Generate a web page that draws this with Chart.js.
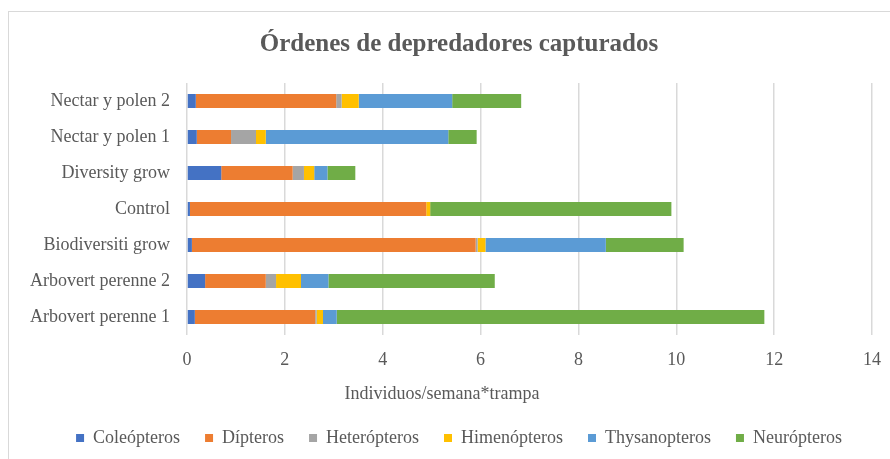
<!DOCTYPE html>
<html lang="es">
<head>
    <meta charset="UTF-8">
    <title>Órdenes de depredadores capturados</title>
    <script src="https://cdn.jsdelivr.net/npm/chart.js"></script>
    <style>
        html, body { margin: 0; padding: 0; background: #fff; overflow: hidden; }
        #frame {
            position: absolute; left: 8px; top: 11px;
            width: 900px; height: 460px;
            border-left: 1.5px solid #d9d9d9; border-top: 1.5px solid #d9d9d9;
        }
        #frame canvas { position: absolute; left: 0; top: 0; }
    </style>
</head>
<body>
    <div id="frame"><canvas id="predChart" width="900" height="460"></canvas></div>
    <script>
        // categorias de arriba hacia abajo
        const categories = ['Nectar y polen 2', 'Nectar y polen 1', 'Diversity grow', 'Control',
            'Biodiversiti grow', 'Arbovert perenne 2', 'Arbovert perenne 1'];

        const coleopteros   = [0.18, 0.20, 0.70, 0.06, 0.10, 0.37, 0.16];
        const dipteros      = [2.87, 0.70, 1.46, 4.83, 5.80, 1.24, 2.46];
        const heteropteros  = [0.11, 0.51, 0.23, 0.00, 0.04, 0.21, 0.03];
        const himenopteros  = [0.35, 0.20, 0.21, 0.08, 0.16, 0.51, 0.13];
        const thysanopteros = [1.91, 3.73, 0.27, 0.00, 2.46, 0.56, 0.28];
        const neuropteros   = [1.41, 0.58, 0.57, 4.93, 1.59, 3.40, 8.74];

        const xTicks = [0, 2, 4, 6, 8, 10, 12, 14];

        const FONT = '"Liberation Serif", "Times New Roman", serif';
        const GREY = '#595959';

        function ds(label, data, color) {
            return { label: label, data: data, backgroundColor: color, borderWidth: 0,
                barPercentage: 0.39, categoryPercentage: 1 };
        }

        // titulo del eje x (en Excel no esta centrado en el area de trazado)
        const axisTitle = {
            id: 'axisTitle',
            afterDraw(chart) {
                const c = chart.ctx;
                c.save();
                c.font = '18px ' + FONT;
                c.fillStyle = GREY;
                c.textAlign = 'center';
                c.textBaseline = 'middle';
                c.fillText('Individuos/semana*trampa', 433, 382);
                c.restore();
            }
        };

        var ctx = document.getElementById('predChart').getContext('2d');
        var chart = new Chart(ctx, {
            type: 'bar',
            data: {
                labels: categories,
                datasets: [
                    ds('Coleópteros', coleopteros, '#4472C4'),
                    ds('Dípteros', dipteros, '#ED7D31'),
                    ds('Heterópteros', heteropteros, '#A5A5A5'),
                    ds('Himenópteros', himenopteros, '#FFC000'),
                    ds('Thysanopteros', thysanopteros, '#5B9BD5'),
                    ds('Neurópteros', neuropteros, '#70AD47')
                ]
            },
            plugins: [axisTitle],
            options: {
                indexAxis: 'y',
                responsive: false,
                animation: false,
                layout: { padding: { top: 0, right: 0, bottom: 15, left: 0 } },
                plugins: {
                    title: {
                        display: true,
                        text: 'Órdenes de depredadores capturados',
                        color: GREY,
                        font: { family: FONT, size: 25, weight: 'bold' },
                        padding: { top: 18, bottom: 23 }
                    },
                    legend: {
                        position: 'bottom',
                        labels: {
                            color: GREY,
                            font: { family: FONT, size: 18 },
                            boxWidth: 8, boxHeight: 8,
                            padding: 25
                        }
                    },
                    tooltip: { enabled: false }
                },
                scales: {
                    x: {
                        stacked: true,
                        min: 0, max: 14,
                        afterBuildTicks: (s) => { s.ticks = xTicks.map(v => ({ value: v })); },
                        afterFit: (s) => { s.height = 69; },
                        grid: { color: '#d9d9d9', lineWidth: 1.5, drawTicks: false },
                        border: { display: false },
                        ticks: { color: GREY, font: { family: FONT, size: 18 }, padding: 14 }
                    },
                    y: {
                        stacked: true,
                        afterFit: (s) => { s.width = 178; },
                        grid: { display: false, drawTicks: false },
                        border: { display: false },
                        ticks: { color: GREY, font: { family: FONT, size: 18 }, padding: 17 }
                    },
                    // eje vacio a la derecha: deja margen sin descentrar titulo y leyenda
                    yRight: {
                        type: 'category',
                        position: 'right',
                        afterFit: (s) => { s.width = 37; },
                        grid: { display: false, drawTicks: false },
                        border: { display: false },
                        ticks: { display: false }
                    }
                }
            }
        });
    </script>
</body>
</html>
